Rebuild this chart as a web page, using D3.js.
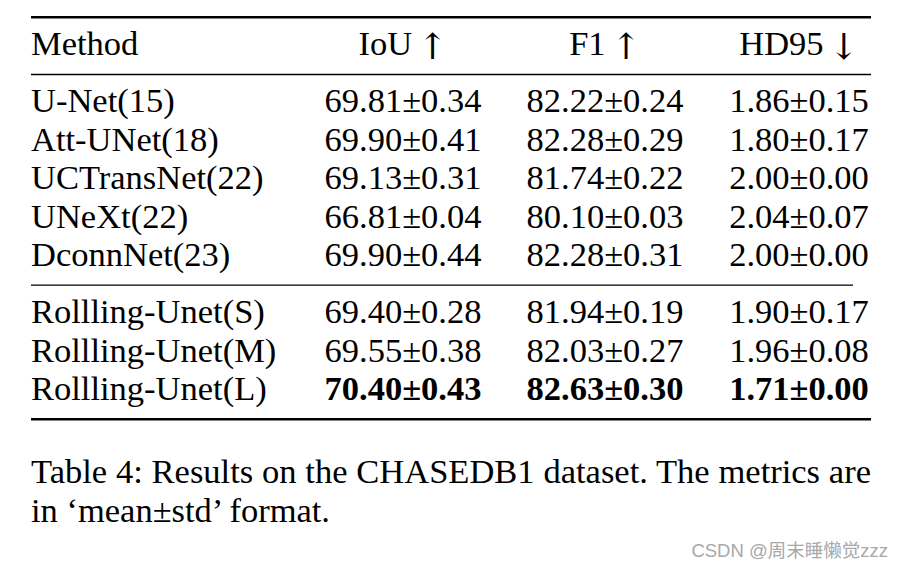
<!DOCTYPE html>
<html>
<head>
<meta charset="utf-8">
<script src="https://cdn.jsdelivr.net/npm/d3@7"></script>
<style>
  html, body { margin: 0; padding: 0; background: #fff; }
  svg { display: block; }
</style>
</head>
<body>
<svg id="chart" width="904" height="571"></svg>
<script>
// ---- data ----
const headers = ["Method", "IoU", "F1", "HD95"];
const headerArrows = ["", "\u2191", "\u2191", "\u2193"];
const methods = ["U-Net(15)", "Att-UNet(18)", "UCTransNet(22)", "UNeXt(22)", "DconnNet(23)",
                 "Rollling-Unet(S)", "Rollling-Unet(M)", "Rollling-Unet(L)"];
const groups = [0, 0, 0, 0, 0, 1, 1, 1];
const iouMean = [69.81, 69.90, 69.13, 66.81, 69.90, 69.40, 69.55, 70.40];
const iouStd  = [0.34, 0.41, 0.31, 0.04, 0.44, 0.28, 0.38, 0.43];
const f1Mean  = [82.22, 82.28, 81.74, 80.10, 82.28, 81.94, 82.03, 82.63];
const f1Std   = [0.24, 0.29, 0.22, 0.03, 0.31, 0.19, 0.27, 0.30];
const hdMean  = [1.86, 1.80, 2.00, 2.04, 2.00, 1.90, 1.96, 1.71];
const hdStd   = [0.15, 0.17, 0.00, 0.07, 0.00, 0.17, 0.08, 0.00];
const boldRows = [7];
const captionLines = ["Table 4: Results on the CHASEDB1 dataset. The metrics are",
                      "in \u2018mean\u00b1std\u2019 format."];
const watermark = "CSDN @\u5468\u672b\u7761\u61d2\u89c9zzz";

// ---- layout ----
const svg = d3.select("#chart");
const FONT = "'Liberation Serif', 'Times New Roman', serif";
const FS = 34.5;
const left = 31, right = 871;

const colX = d3.scaleOrdinal().domain([0, 1, 2, 3]).range([left, 403, 605, 799]);
const rowY = d3.scaleLinear().domain([0, 1]).range([112, 150.6]);
const groupGap = 18;
const yOf = i => rowY(i) + groups[i] * groupGap;

const fmt = (m, s) => m.toFixed(2) + "\u00b1" + s.toFixed(2);

// rules
function rule(y, w, x2) {
  svg.append("line").attr("x1", left).attr("x2", x2 || right)
    .attr("y1", y).attr("y2", y).attr("stroke", "#000").attr("stroke-width", w);
}
rule(17.2, 2.4);
rule(74.5, 1.4);
rule(285.2, 1.3, 853);
rule(419.3, 2.6);

// header
const ht = svg.append("g").selectAll("text").data(headers).join("text")
  .attr("x", (d, i) => colX(i))
  .attr("y", 55)
  .attr("text-anchor", (d, i) => i === 0 ? "start" : "middle")
  .attr("font-family", FONT).attr("font-size", FS).attr("fill", "#000");
ht.append("tspan").text(d => d);
ht.filter((d, i) => headerArrows[i]).append("tspan")
  .attr("font-family", "'DejaVu Serif', serif")
  .attr("font-size", 36)
  .attr("dx", 5).attr("dy", 4)
  .text(d => headerArrows[headers.indexOf(d)]);

// rows
const rows = methods.map((m, i) => ({
  i, cells: [m, fmt(iouMean[i], iouStd[i]), fmt(f1Mean[i], f1Std[i]), fmt(hdMean[i], hdStd[i])]
}));
const rg = svg.append("g").selectAll("g").data(rows).join("g");
rg.selectAll("text").data(r => r.cells.map((c, j) => ({c, j, i: r.i}))).join("text")
  .attr("x", d => colX(d.j))
  .attr("y", d => yOf(d.i))
  .attr("text-anchor", d => d.j === 0 ? "start" : "middle")
  .attr("font-family", FONT).attr("font-size", FS).attr("fill", "#000")
  .attr("font-weight", d => (d.j > 0 && boldRows.includes(d.i)) ? "bold" : "normal")
  .text(d => d.c);

// caption
const cap = svg.append("g").selectAll("text").data(captionLines).join("text")
  .attr("x", left)
  .attr("y", (d, i) => 483.3 + i * 38.4)
  .attr("font-family", FONT).attr("font-size", FS).attr("fill", "#000")
  .text(d => d);
cap.filter((d, i) => i === 0).each(function(d) {
  const w = this.getComputedTextLength();
  const spaces = (d.match(/ /g) || []).length;
  d3.select(this).attr("word-spacing", (right - left - w) / spaces);
});

// watermark
svg.append("text")
  .attr("x", 888).attr("y", 557)
  .attr("text-anchor", "end")
  .attr("font-family", "'Liberation Sans', 'Noto Sans CJK SC', sans-serif")
  .attr("font-size", 18.5).attr("fill", "#a8a8a8")
  .text(watermark);
</script>
</body>
</html>
